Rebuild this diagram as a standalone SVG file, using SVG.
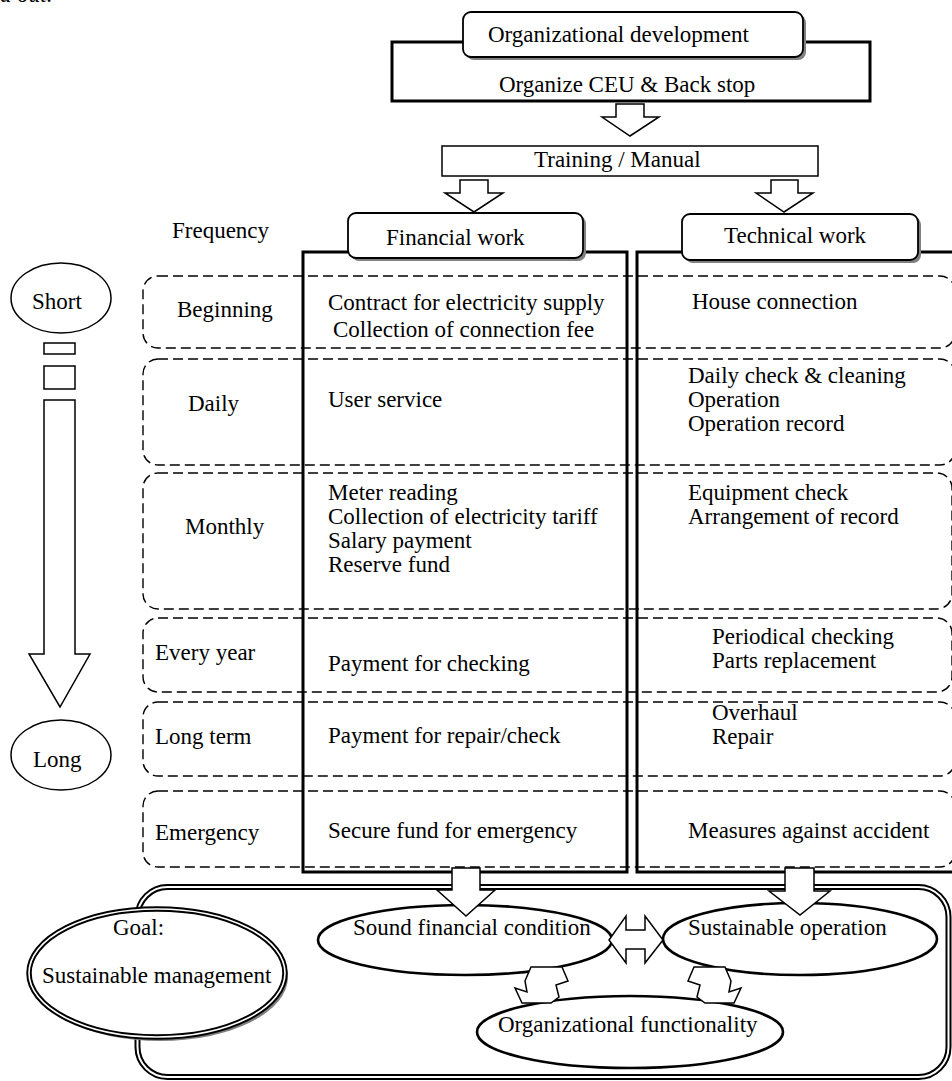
<svg xmlns="http://www.w3.org/2000/svg" width="952" height="1081" viewBox="0 0 952 1081">
<style>
text{font-family:"Liberation Serif","Times New Roman",serif;font-size:23px;fill:#000}
.thin{fill:none;stroke:#000;stroke-width:1.5}
.thick{fill:none;stroke:#000;stroke-width:3}
.wbox{fill:#fff;stroke:#000;stroke-width:1.8}
.shadow{fill:#808080;stroke:none}
.dash{fill:none;stroke:#000;stroke-width:1.4;stroke-dasharray:10 5}
.arrow{fill:#fff;stroke:#000;stroke-width:1.5;stroke-linejoin:miter}
.ell{fill:#fff;stroke:#000;stroke-width:2.6}
</style>
<rect x="0" y="0" width="952" height="1081" fill="#fff"/>
<text x="0" y="2" font-style="italic">d out.</text>

<g id="organize">
<rect x="392" y="42" width="478" height="59" class="thick"/>
<text x="499" y="92">Organize CEU &amp; Back stop</text>
</g>
<g id="orgdev">
<rect x="466" y="15" width="340" height="45" rx="8" class="shadow"/>
<rect x="463" y="12" width="340" height="45" rx="8" class="wbox"/>
<text x="488" y="42">Organizational development</text>
</g>
<g id="training">
<rect x="442" y="146" width="376" height="30" class="thin" fill="#fff"/>
<text x="534" y="167">Training / Manual</text>
</g>

<g id="rows">
<rect x="143" y="276" width="812" height="72" rx="15" class="dash"/>
<rect x="143" y="359" width="812" height="106" rx="15" class="dash"/>
<rect x="143" y="473" width="809" height="136" rx="15" class="dash"/>
<rect x="143" y="618" width="809" height="74" rx="15" class="dash"/>
<rect x="143" y="702" width="812" height="74" rx="15" class="dash"/>
<rect x="143" y="791" width="812" height="76" rx="15" class="dash"/>
</g>

<g id="financial">
<rect x="303" y="252" width="324" height="620" class="thick"/>
<rect x="351" y="216" width="235" height="45" rx="8" class="shadow"/>
<rect x="348" y="213" width="235" height="45" rx="8" class="wbox"/>
<text x="386" y="245">Financial work</text>
<text x="328" y="310">Contract for electricity supply</text>
<text x="333" y="337">Collection of connection fee</text>
<text x="328" y="407">User service</text>
<text x="328" y="500">Meter reading</text>
<text x="328" y="524">Collection of electricity tariff</text>
<text x="328" y="548">Salary payment</text>
<text x="328" y="572">Reserve fund</text>
<text x="328" y="671">Payment for checking</text>
<text x="328" y="743">Payment for repair/check</text>
<text x="328" y="838">Secure fund for emergency</text>
</g>

<g id="technical">
<rect x="637" y="252" width="330" height="620" class="thick"/>
<rect x="685" y="217" width="236" height="46" rx="8" class="shadow"/>
<rect x="682" y="214" width="236" height="46" rx="8" class="wbox"/>
<text x="724" y="243">Technical work</text>
<text x="692" y="309">House connection</text>
<text x="688" y="383">Daily check &amp; cleaning</text>
<text x="688" y="407">Operation</text>
<text x="688" y="431">Operation record</text>
<text x="688" y="500">Equipment check</text>
<text x="688" y="524">Arrangement of record</text>
<text x="712" y="644">Periodical checking</text>
<text x="712" y="668">Parts replacement</text>
<text x="712" y="720">Overhaul</text>
<text x="712" y="744">Repair</text>
<text x="688" y="838">Measures against accident</text>
</g>

<g id="frequency">
<text x="172" y="238">Frequency</text>
<text x="177" y="317">Beginning</text>
<text x="188" y="411">Daily</text>
<text x="185" y="534">Monthly</text>
<text x="155" y="660">Every year</text>
<text x="155" y="744">Long term</text>
<text x="155" y="840">Emergency</text>
</g>

<g id="timescale">
<ellipse cx="61" cy="298" rx="50" ry="35" class="thin"/>
<text x="32" y="309">Short</text>
<rect x="44" y="343" width="31" height="11" class="thin"/>
<rect x="44" y="366" width="31" height="23" class="thin"/>
<polygon points="44,400 75,400 75,654 90,654 60,707 29,654 44,654" class="arrow"/>
<ellipse cx="61" cy="755" rx="50" ry="35" class="thin"/>
<text x="33" y="767">Long</text>
</g>

<g id="goalframe">
<rect x="137.5" y="887" width="811" height="190" rx="30" fill="#fff" stroke="#000" stroke-width="6"/>
<rect x="137.5" y="887" width="811" height="190" rx="30" fill="none" stroke="#fff" stroke-width="2"/>
</g>
<g id="goal">
<ellipse cx="160" cy="977" rx="128" ry="64" class="shadow"/>
<ellipse cx="157" cy="973" rx="128" ry="64" fill="#fff" stroke="#000" stroke-width="5.5"/>
<ellipse cx="157" cy="973" rx="128" ry="64" fill="none" stroke="#fff" stroke-width="1.6"/>
<text x="113" y="935">Goal:</text>
<text x="42" y="983">Sustainable management</text>
</g>
<g id="sound">
<ellipse cx="465" cy="940" rx="147" ry="35" class="ell"/>
<text x="353" y="935">Sound financial condition</text>
</g>
<g id="sustop">
<ellipse cx="800" cy="939" rx="137" ry="36" class="ell"/>
<text x="688" y="935">Sustainable operation</text>
</g>
<g id="orgfunc">
<ellipse cx="630" cy="1032" rx="153" ry="36" class="ell"/>
<text x="498" y="1032">Organizational functionality</text>
</g>

<g id="connectors">
<polygon points="616,104 644,104 644,117 659,117 630,136 602,117 616,117" class="arrow"/>
<polygon points="460,180 488,180 488,193 503,193 474,212 445,193 460,193" class="arrow"/>
<polygon points="771,180 798,180 798,193 813,193 784,212 756,193 771,193" class="arrow"/>
<polygon points="452,868 480,868 480,890 495,890 466,916 437,890 452,890" class="arrow"/>
<polygon points="785,868 814,868 814,891 830,891 800,915 769,891 785,891" class="arrow"/>
<polygon points="609,940 626,916 626,930 645,930 645,916 663,940 645,963 645,949 626,949 626,963" class="arrow"/>
<polygon points="531,967 562,967 568,981 556,985 559,997 551,1003 522,1003 515,988 527,992 525,981" class="arrow"/>
<polygon points="725,967 694,967 688,981 700,985 697,997 705,1003 734,1003 741,988 729,992 731,981" class="arrow"/>
</g>
</svg>
